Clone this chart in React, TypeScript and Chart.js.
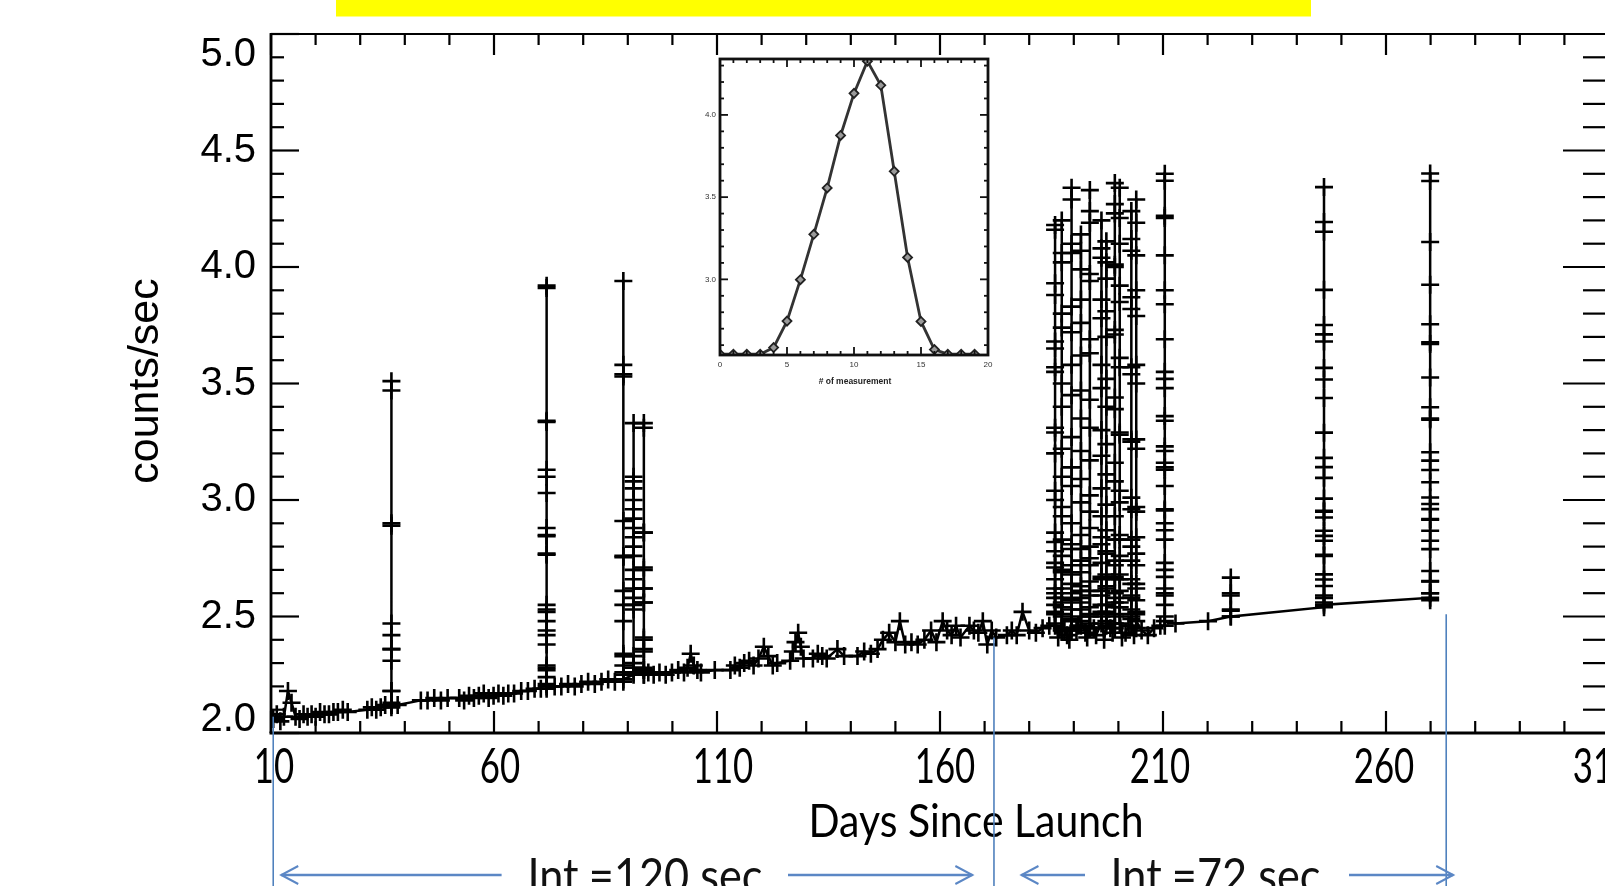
import React, { useEffect, useRef } from "react";
import { Chart, registerables } from "chart.js";

Chart.register(...registerables);

// Quiet-day readings: day since launch and counts/sec
const baseDays = [
  10.5, 11.3, 12.1, 12.9, 13.8, 14.6, 15.5, 16.4, 17.3, 18.2,
  19.1, 20.0, 21.0, 22.0, 23.0, 24.0, 25.0, 26.1, 27.2, 31.6,
  32.6, 33.6, 34.6, 35.6, 38.4, 43.6, 45.1, 46.6, 48.1, 49.6,
  52.2, 53.3, 54.4, 55.5, 56.6, 57.7, 58.8, 59.9, 61.0, 62.1,
  63.2, 64.5, 66.1, 67.6, 69.1, 70.5, 73.6, 75.1, 76.6, 78.1,
  79.6, 81.1, 82.6, 84.1, 85.6, 87.1, 94.6, 95.8, 97.1, 98.5,
  99.9, 101.3, 102.6, 103.4, 104.1, 104.8, 105.6, 106.4, 109.5, 113.0,
  114.0, 115.1, 116.1, 117.2, 118.2, 119.3, 120.5, 121.5, 122.5, 123.5,
  126.4, 127.0, 127.6, 128.2, 128.8, 129.4, 131.5, 132.6, 133.6, 134.6,
  137.0, 138.5, 141.5, 143.0, 144.5, 146.0, 147.2, 148.6, 150.0, 151.0,
  152.2, 153.6, 155.0, 156.5, 158.0, 159.2, 160.6, 161.6, 162.6, 163.6,
  164.6, 166.6, 167.6, 168.6, 169.6, 170.6, 171.6, 172.6, 175.0, 176.1,
  177.2, 178.5, 180.0, 181.5, 183.0, 184.5, 186.5, 187.9, 188.5, 189.0,
  190.6, 191.0, 192.6, 193.0, 194.5, 195.0, 196.8, 198.2, 198.7, 200.8,
  201.6, 202.3, 203.5, 205.2, 206.6, 208.0, 209.4, 212.8, 220.1,
];
const baseCounts = [
  2.06, 2.08, 2.05, 2.07, 2.18, 2.13, 2.07, 2.06, 2.08, 2.07,
  2.08, 2.07, 2.09, 2.08, 2.08, 2.09, 2.09, 2.10, 2.09, 2.10,
  2.11, 2.10, 2.11, 2.12, 2.12, 2.14, 2.14, 2.15, 2.14, 2.15,
  2.15, 2.14, 2.16, 2.15, 2.16, 2.17, 2.15, 2.16, 2.17, 2.16,
  2.17, 2.17, 2.18, 2.18, 2.19, 2.19, 2.20, 2.20, 2.21, 2.20,
  2.21, 2.22, 2.21, 2.22, 2.23, 2.22, 2.26, 2.25, 2.26, 2.25,
  2.26, 2.27, 2.26, 2.28, 2.34, 2.29, 2.27, 2.26, 2.27, 2.27,
  2.29, 2.28, 2.30, 2.31, 2.29, 2.32, 2.37, 2.33, 2.29, 2.30,
  2.31, 2.35, 2.39, 2.43, 2.37, 2.32, 2.32, 2.34, 2.33, 2.32,
  2.36, 2.33, 2.33, 2.35, 2.34, 2.36, 2.40, 2.43, 2.39, 2.48,
  2.38, 2.39, 2.38, 2.40, 2.44, 2.39, 2.48, 2.44, 2.42, 2.46,
  2.41, 2.46, 2.44, 2.43, 2.48, 2.38, 2.44, 2.41, 2.42, 2.44,
  2.42, 2.52, 2.44, 2.43, 2.45, 2.46, 2.41, 2.44, 2.42, 2.40,
  2.44, 2.46, 2.43, 2.41, 2.45, 2.42, 2.40, 2.45, 2.43, 2.41,
  2.43, 2.46, 2.42, 2.44, 2.42, 2.45, 2.46, 2.47, 2.48,
];

// Burst days: every reading of the day's measurement sequence, in order
const burstDays = [
  37.0, 71.8, 89.0, 91.3, 93.6, 185.8, 187.3, 189.5, 191.6, 193.6,
  196.2, 197.3, 199.2, 200.3, 202.9, 204.0, 210.4, 225.2, 246.1, 269.9,
];
const burstCounts = [
  [2.11, 2.12, 2.18, 2.31, 2.36, 2.42, 2.90, 3.47, 3.51, 2.89, 2.47, 2.36, 2.18, 2.13, 2.12],
  [2.19, 2.21, 2.27, 2.29, 2.42, 2.52, 2.77, 2.85, 3.10, 3.34, 3.92, 3.91, 3.335, 3.13, 3.03, 2.88, 2.845, 2.765, 2.55, 2.53, 2.48, 2.44, 2.38, 2.28, 2.24, 2.20],
  [2.22, 2.25, 2.29, 2.34, 2.48, 2.61, 2.755, 2.91, 3.53, 3.58, 3.94, 3.54, 2.76, 2.55, 2.33, 2.26, 2.23],
  [2.25, 2.28, 2.33, 2.55, 2.62, 2.70, 2.80, 2.88, 2.96, 3.05, 3.10, 3.33, 3.08, 3.00, 2.92, 2.84, 2.76, 2.66, 2.58, 2.53, 2.30, 2.26],
  [2.25, 2.27, 2.28, 2.36, 2.41, 2.56, 2.62, 2.71, 2.86, 3.31, 3.33, 2.86, 2.70, 2.62, 2.56, 2.40, 2.35, 2.27, 2.25],
  [2.46, 2.52, 2.60, 2.73, 2.86, 3.04, 3.20, 3.31, 3.57, 3.65, 3.88, 4.16, 4.18, 3.93, 3.68, 3.55, 3.29, 3.00, 2.82, 2.78, 2.71, 2.66, 2.62, 2.58, 2.55, 2.51, 2.47],
  [2.45, 2.50, 2.54, 2.58, 2.70, 2.93, 3.10, 3.40, 3.74, 4.02, 4.20, 4.06, 3.80, 3.50, 3.22, 2.97, 2.83, 2.76, 2.69, 2.62, 2.56, 2.51, 2.44],
  [2.44, 2.48, 2.57, 2.68, 2.81, 3.06, 3.27, 3.58, 3.83, 4.10, 4.34, 4.29, 4.06, 3.72, 3.45, 3.14, 2.90, 2.79, 2.72, 2.64, 2.60, 2.53, 2.49, 2.45],
  [2.46, 2.50, 2.53, 2.58, 2.63, 2.79, 2.99, 3.21, 3.47, 3.76, 3.99, 4.14, 4.07, 3.86, 3.62, 3.35, 3.09, 2.85, 2.74, 2.69, 2.61, 2.56, 2.48],
  [2.45, 2.51, 2.61, 2.75, 2.95, 3.17, 3.43, 3.69, 3.97, 4.19, 4.33, 4.24, 3.94, 3.63, 3.31, 3.02, 2.88, 2.80, 2.72, 2.65, 2.59, 2.54, 2.50, 2.47],
  [2.47, 2.52, 2.55, 2.61, 2.67, 2.84, 3.05, 3.30, 3.58, 3.86, 4.08, 4.20, 4.04, 3.78, 3.48, 3.19, 2.93, 2.81, 2.73, 2.66, 2.59, 2.50],
  [2.46, 2.52, 2.63, 2.78, 2.98, 3.24, 3.52, 3.81, 4.02, 4.11, 3.95, 3.70, 3.40, 3.11, 2.87, 2.77, 2.68, 2.62, 2.55, 2.51, 2.48],
  [2.45, 2.50, 2.56, 2.60, 2.67, 2.74, 2.93, 3.16, 3.44, 3.73, 4.00, 4.23, 4.36, 4.27, 4.01, 3.71, 3.39, 3.08, 2.83, 2.72, 2.66, 2.58, 2.54, 2.47],
  [2.47, 2.54, 2.66, 2.83, 3.04, 3.29, 3.57, 3.85, 4.10, 4.34, 4.21, 3.92, 3.61, 3.28, 2.99, 2.85, 2.76, 2.68, 2.61, 2.56, 2.51],
  [2.46, 2.50, 2.53, 2.58, 2.64, 2.80, 3.01, 3.26, 3.54, 3.82, 4.07, 4.24, 4.12, 3.87, 3.57, 3.25, 2.96, 2.83, 2.74, 2.66, 2.59, 2.49],
  [2.45, 2.51, 2.62, 2.77, 2.97, 3.22, 3.50, 3.79, 4.05, 4.29, 4.19, 3.90, 3.58, 3.26, 2.95, 2.84, 2.72, 2.64, 2.57, 2.52, 2.48],
  [2.46, 2.50, 2.60, 2.70, 2.83, 2.90, 2.96, 3.13, 3.21, 3.34, 3.48, 3.55, 3.84, 4.05, 4.22, 4.40, 4.37, 4.21, 3.90, 3.69, 3.52, 3.36, 3.23, 3.16, 3.14, 3.06, 2.955, 2.87, 2.73, 2.67, 2.62, 2.59, 2.55, 2.48],
  [2.50, 2.53, 2.60, 2.667, 2.59, 2.525, 2.50],
  [2.54, 2.56, 2.59, 2.631, 2.681, 2.76, 2.825, 2.868, 2.925, 2.954, 3.006, 3.141, 3.289, 3.517, 3.68, 3.751, 3.902, 4.193, 4.343, 4.151, 3.711, 3.567, 3.438, 3.181, 3.095, 2.95, 2.846, 2.765, 2.659, 2.58, 2.55],
  [2.58, 2.60, 2.652, 2.695, 2.789, 2.868, 2.918, 2.983, 3.076, 3.169, 3.345, 3.398, 3.677, 3.924, 4.369, 4.401, 4.107, 3.754, 3.67, 3.526, 3.35, 3.205, 3.129, 3.011, 2.961, 2.915, 2.825, 2.65, 2.60, 2.57],
];

const xTickLabels = ["10", "60", "110", "160", "210", "260", "310"];
const xTickNudge = [3, 6, 6, 5, -3, -2, -6];
const yTickLabels = ["2.0", "2.5", "3.0", "3.5", "4.0", "4.5", "5.0"];
const xTitle = "Days Since Launch";
const yTitle = "counts/sec";

// Integration-time intervals marked under the axis
const intervalEdgeDays = [10.5, 172.1, 273.5];
const intervalEdgeTops = [2.07, 2.41, 2.51];
const intervalLabels = ["Int.=120 sec", "Int.=72 sec"];

// Inset: one day's measurement sequence
const insetMeasurement = [0, 1, 2, 3, 4, 5, 6, 7, 8, 9, 10, 11, 12, 13, 14, 15, 16, 17, 18, 19];
const insetCounts = [
  2.545, 2.545, 2.545, 2.545, 2.585, 2.746, 2.998, 3.274, 3.556, 3.875,
  4.131, 4.327, 4.18, 3.657, 3.133, 2.744, 2.573, 2.545, 2.545, 2.545,
];
const insetXTickLabels = ["0", "5", "10", "15", "20"];
const insetYTickLabels = ["3.0", "3.5", "4.0"];
const insetXTitle = "# of measurement";

function buildSeries() {
  const pts: { x: number; y: number }[] = [];
  baseDays.forEach((d, i) => pts.push({ x: d, y: baseCounts[i] }));
  burstDays.forEach((d, i) => burstCounts[i].forEach((v) => pts.push({ x: d, y: v })));
  pts.sort((a, b) => a.x - b.x);
  return pts;
}

function seg(ctx: CanvasRenderingContext2D, x1: number, y1: number, x2: number, y2: number) {
  ctx.beginPath();
  ctx.moveTo(x1, y1);
  ctx.lineTo(x2, y2);
  ctx.stroke();
}

// Text squeezed horizontally to a given width
function fitText(ctx: CanvasRenderingContext2D, text: string, cx: number, baseY: number, font: string, width: number) {
  ctx.save();
  ctx.font = font;
  const w = ctx.measureText(text).width;
  ctx.translate(cx, baseY);
  ctx.scale(width / w, 1);
  ctx.textAlign = "center";
  ctx.textBaseline = "alphabetic";
  ctx.fillText(text, 0, 0);
  ctx.restore();
}

function scaledText(ctx: CanvasRenderingContext2D, text: string, cx: number, baseY: number, font: string, sx: number) {
  ctx.save();
  ctx.font = font;
  ctx.translate(cx, baseY);
  ctx.scale(sx, 1);
  ctx.textAlign = "center";
  ctx.textBaseline = "alphabetic";
  ctx.fillText(text, 0, 0);
  ctx.restore();
}

function arrow(ctx: CanvasRenderingContext2D, fromX: number, tipX: number, y: number) {
  const dir = tipX > fromX ? 1 : -1;
  ctx.lineWidth = 2.6;
  seg(ctx, fromX, y, tipX, y);
  ctx.lineWidth = 2;
  ctx.beginPath();
  ctx.moveTo(tipX - dir * 17, y - 9);
  ctx.lineTo(tipX, y);
  ctx.lineTo(tipX - dir * 17, y + 9);
  ctx.stroke();
}

const mainDecor = {
  id: "mainDecor",
  afterDraw(chart: any) {
    const { ctx, chartArea: a } = chart;
    const xs = chart.scales.x;
    const ys = chart.scales.y;
    ctx.save();
    ctx.strokeStyle = "#000";
    ctx.fillStyle = "#000";
    ctx.lineCap = "butt";

    // frame
    ctx.lineWidth = 2.2;
    seg(ctx, a.left, a.top, a.right, a.top);
    seg(ctx, a.right, a.top, a.right, a.bottom);
    ctx.lineWidth = 3;
    seg(ctx, a.left - 1.5, a.bottom, a.right, a.bottom);
    ctx.lineWidth = 2.8;
    seg(ctx, a.left, a.top - 1, a.left, a.bottom);

    // inward ticks
    ctx.lineWidth = 2.2;
    for (let d = 10; d <= 310; d += 10) {
      const px = xs.getPixelForValue(d);
      const major = (d - 10) % 50 === 0;
      seg(ctx, px, a.bottom, px, a.bottom - (major ? 22 : 12));
      seg(ctx, px, a.top, px, a.top + (major ? 21 : 11));
    }
    for (let k = 20; k <= 50; k++) {
      const py = ys.getPixelForValue(k / 10);
      const major = k % 5 === 0;
      seg(ctx, a.left, py, a.left + (major ? 28 : 13), py);
      seg(ctx, a.right, py, a.right - (major ? 46 : 26), py);
    }

    // y tick labels (end labels kept inside the frame)
    ctx.font = '40px "Liberation Sans", Arial, sans-serif';
    ctx.textAlign = "right";
    ctx.textBaseline = "middle";
    yTickLabels.forEach((t) => {
      let py = ys.getPixelForValue(Number(t));
      py = Math.min(Math.max(py, a.top + 21), a.bottom - 13);
      ctx.fillText(t, a.left - 15, py);
    });

    // x tick labels
    xTickLabels.forEach((t, i) => {
      const px = xs.getPixelForValue(Number(t));
      scaledText(ctx, t, px + xTickNudge[i], a.bottom + 50, '49px Lato, "Open Sans", sans-serif', 0.71);
    });

    // axis titles
    fitText(ctx, xTitle, 976, a.bottom + 104, '47px Lato, "Open Sans", sans-serif', 335);
    ctx.save();
    ctx.translate(158, 381);
    ctx.rotate(-Math.PI / 2);
    ctx.font = '43px "Liberation Sans", Arial, sans-serif';
    ctx.textAlign = "center";
    ctx.textBaseline = "alphabetic";
    ctx.fillText(yTitle, 0, 0);
    ctx.restore();

    // header bar
    ctx.fillStyle = "#ffff00";
    ctx.fillRect(336, 0, 975, 16.5);

    // interval markers
    ctx.strokeStyle = "#4f81bd";
    ctx.lineWidth = 1.6;
    const edges = intervalEdgeDays.map((d) => xs.getPixelForValue(d));
    edges.forEach((px, i) => {
      seg(ctx, px, ys.getPixelForValue(intervalEdgeTops[i]), px, 900);
    });
    ctx.strokeStyle = "#5b87c5";
    const ay = 875;
    arrow(ctx, 501.6, edges[0] + 8, ay);
    arrow(ctx, 788, edges[1] - 21.6, ay);
    arrow(ctx, 1085, edges[1] + 27.5, ay);
    arrow(ctx, 1349, edges[2] + 7, ay);

    ctx.fillStyle = "#111";
    fitText(ctx, intervalLabels[0], 645, 893, '49px Lato, "Open Sans", sans-serif', 235);
    fitText(ctx, intervalLabels[1], 1215.5, 893, '49px Lato, "Open Sans", sans-serif', 210);

    ctx.restore();
  },
};

const insetDecor = {
  id: "insetDecor",
  afterDraw(chart: any) {
    const { ctx, chartArea: a } = chart;
    const xs = chart.scales.x;
    const ys = chart.scales.y;
    ctx.save();
    ctx.strokeStyle = "#111";
    ctx.fillStyle = "#333";
    ctx.lineWidth = 2.8;
    ctx.strokeRect(a.left, a.top, a.right - a.left, a.bottom - a.top);

    ctx.lineWidth = 1.8;
    for (let i = 0; i <= 20; i++) {
      const px = xs.getPixelForValue(i);
      const len = i % 5 === 0 ? 8 : 4;
      seg(ctx, px, a.bottom, px, a.bottom - len);
      seg(ctx, px, a.top, px, a.top + len);
    }
    for (let k = 26; k <= 43; k++) {
      const py = ys.getPixelForValue(k / 10);
      const len = k % 5 === 0 ? 8 : 4;
      seg(ctx, a.left, py, a.left + len, py);
      seg(ctx, a.right, py, a.right - len, py);
    }

    ctx.font = '8px "Liberation Sans", Arial, sans-serif';
    ctx.textAlign = "right";
    ctx.textBaseline = "middle";
    insetYTickLabels.forEach((t) => {
      ctx.fillText(t, a.left - 4, ys.getPixelForValue(Number(t)));
    });
    ctx.textAlign = "center";
    ctx.textBaseline = "top";
    insetXTickLabels.forEach((t) => {
      ctx.fillText(t, xs.getPixelForValue(Number(t)), a.bottom + 6);
    });
    ctx.font = 'bold 8.5px "Liberation Sans", Arial, sans-serif';
    ctx.fillStyle = "#222";
    ctx.fillText(insetXTitle, (a.left + a.right) / 2 + 1, a.bottom + 22);
    ctx.restore();
  },
};

export default function App() {
  const mainRef = useRef<HTMLCanvasElement>(null);
  const insetRef = useRef<HTMLCanvasElement>(null);

  useEffect(() => {
    const main = new Chart(mainRef.current as HTMLCanvasElement, {
      type: "line",
      data: {
        datasets: [
          {
            data: buildSeries(),
            borderColor: "#000",
            borderWidth: 2.5,
            pointStyle: "cross",
            pointRadius: 9,
            pointBorderWidth: 2.6,
            pointBorderColor: "#000",
            pointBackgroundColor: "#000",
            tension: 0,
            fill: false,
          },
        ],
      },
      options: {
        animation: false,
        responsive: false,
        events: [],
        layout: { padding: { left: 271, right: 31, top: 34, bottom: 153 } },
        plugins: { legend: { display: false }, tooltip: { enabled: false } },
        scales: {
          x: { type: "linear", min: 10, max: 310, display: false },
          y: { type: "linear", min: 2, max: 5, display: false },
        },
      },
      plugins: [mainDecor],
    } as any);

    const inset = new Chart(insetRef.current as HTMLCanvasElement, {
      type: "line",
      data: {
        datasets: [
          {
            data: insetMeasurement.map((m, i) => ({ x: m, y: insetCounts[i] })),
            borderColor: "#333",
            borderWidth: 2.8,
            pointStyle: "rectRot",
            pointRadius: 4.5,
            pointBorderWidth: 1.8,
            pointBorderColor: "#222",
            pointBackgroundColor: "#9a9a9a",
            tension: 0,
            fill: false,
          },
        ],
      },
      options: {
        animation: false,
        responsive: false,
        events: [],
        layout: { padding: { left: 40, right: 22, top: 19, bottom: 45 } },
        plugins: { legend: { display: false }, tooltip: { enabled: false } },
        scales: {
          x: { type: "linear", min: 0, max: 20, display: false },
          y: { type: "linear", min: 2.54, max: 4.34, display: false },
        },
      },
      plugins: [insetDecor],
    } as any);

    return () => {
      main.destroy();
      inset.destroy();
    };
  }, []);

  return (
    <div
      style={{
        position: "absolute",
        left: 0,
        top: 0,
        width: 1605,
        height: 886,
        overflow: "hidden",
        background: "#fff",
      }}
    >
      <canvas
        ref={mainRef}
        width={1640}
        height={886}
        style={{ position: "absolute", left: 0, top: 0, width: 1640, height: 886 }}
      />
      <canvas
        ref={insetRef}
        width={330}
        height={360}
        style={{ position: "absolute", left: 680, top: 40, width: 330, height: 360, filter: "blur(0.5px)" }}
      />
    </div>
  );
}
